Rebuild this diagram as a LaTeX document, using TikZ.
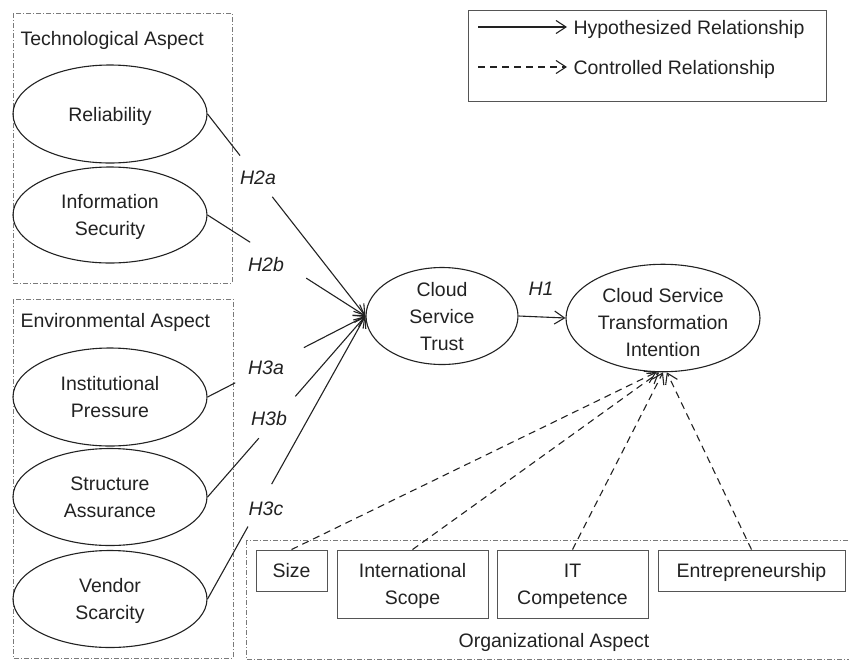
\documentclass[tikz,border=0pt]{standalone}
\usepackage{fontspec}
\setmainfont{Liberation Sans}
\usetikzlibrary{arrows.meta,shapes.geometric}
\definecolor{ink}{HTML}{222222}
\definecolor{framegray}{HTML}{7A7A7A}
\definecolor{boxgray}{HTML}{555555}
\begin{document}
\begin{tikzpicture}[x=1pt,y=-1pt,
  every node/.style={font=\fontsize{19.5}{27}\selectfont, text=ink, text depth=0pt},
  aspect/.style={draw=framegray, line width=0.8pt, dash pattern=on 5pt off 2pt on 1pt off 2pt},
  legendframe/.style={draw=boxgray, line width=0.9pt},
  construct/.style={ellipse, draw=ink, line width=1.1pt, minimum width=194pt,
    minimum height=98pt, inner sep=0pt, align=center},
  ctrlbox/.style={draw=boxgray, line width=0.9pt, inner sep=0pt, align=center},
  hyp/.style={draw=ink, line width=1.1pt},
  barb/.style={-{Straight Barb[length=10pt,width=13pt]}},
  hyparrow/.style={hyp, barb},
  ctrl/.style={draw=ink, line width=1.1pt, dash pattern=on 7pt off 5pt, barb},
  hlabel/.style={font=\fontsize{19.5}{27}\selectfont\itshape}]
\useasboundingbox (0,0) rectangle (849,662);

% aspect frames
\draw[aspect] (13,13) rectangle (232,283);
\draw[aspect] (13,299) rectangle (233,658);
\draw[aspect] (246,540) rectangle (853,659);
\node[anchor=west] (techtitle) at (17,38) {Technological Aspect};
\node[anchor=west] (envtitle) at (17,320) {Environmental Aspect};
\node (orgtitle) at (554,640) {Organizational Aspect};

% legend
\draw[legendframe] (468,10) rectangle (826,101);
\coordinate (lga) at (478,27);
\coordinate (lgb) at (567,27);
\coordinate (lgc) at (478,67);
\coordinate (lgd) at (567,67);
\draw[hyparrow] (lga) -- (lgb);
\draw[ctrl] (lgc) -- (lgd);
\node[anchor=west] (lgtxta) at (570,27) {Hypothesized Relationship};
\node[anchor=west] (lgtxtb) at (570,67) {Controlled Relationship};

% constructs
\node[construct] (rel) at (110,114) {Reliability};
\node[construct, minimum height=96pt] (infosec) at (110,215) {Information\\Security};
\node[construct] (inst) at (110,397) {Institutional\\Pressure};
\node[construct, minimum height=97pt] (struct) at (110,497) {Structure\\Assurance};
\node[construct, minimum height=97pt] (vendor) at (110,599) {Vendor\\Scarcity};
\node[construct, minimum width=152pt, minimum height=97pt] (trust) at (442,316) {Cloud\\Service\\Trust};
\node[construct, minimum height=96pt] (intent) at (663,318) {\rule{0pt}{22pt}Cloud Service\\Transformation\\Intention};

% control variables
\node[ctrlbox, minimum width=71pt, minimum height=41pt] (size) at (291.5,570.5) {Size};
\node[ctrlbox, minimum width=151pt, minimum height=68pt] (intl) at (412.5,584) {International\\Scope};
\node[ctrlbox, minimum width=151pt, minimum height=68pt] (itc) at (572.5,584) {IT\\Competence};
\node[ctrlbox, minimum width=187pt, minimum height=41pt] (entre) at (751.5,570.5) {Entrepreneurship};

% hypothesized paths, interrupted by their labels
\path (rel.east) -- (trust.west) coordinate[pos=0.206] (h2aa) coordinate[pos=0.41] (h2ab);
\draw[hyp] (rel.east) -- (h2aa);
\draw[hyparrow] (h2ab) -- (trust.west);
\node[hlabel] (h2a) at (258,178) {H2a};

\path (infosec.east) -- (trust.west) coordinate[pos=0.27] (h2ba) coordinate[pos=0.625] (h2bb);
\draw[hyp] (infosec.east) -- (h2ba);
\draw[hyparrow] (h2bb) -- (trust.west);
\node[hlabel] (h2b) at (266,264) {H2b};

\path (inst.east) -- (trust.west) coordinate[pos=0.175] (h3aa) coordinate[pos=0.61] (h3ab);
\draw[hyp] (inst.east) -- (h3aa);
\draw[hyparrow] (h3ab) -- (trust.west);
\node[hlabel] (h3a) at (266,368) {H3a};

\path (struct.east) -- (trust.west) coordinate[pos=0.325] (h3ba) coordinate[pos=0.556] (h3bb);
\draw[hyp] (struct.east) -- (h3ba);
\draw[hyparrow] (h3bb) -- (trust.west);
\node[hlabel] (h3b) at (269,418) {H3b};

\path (vendor.east) -- (trust.west) coordinate[pos=0.256] (h3ca) coordinate[pos=0.406] (h3cb);
\draw[hyp] (vendor.east) -- (h3ca);
\draw[hyparrow] (h3cb) -- (trust.west);
\node[hlabel] (h3c) at (266,509) {H3c};

\draw[hyparrow] (trust.east) -- (intent.west);
\node[hlabel] (h1) at (541,289) {H1};

% controlled paths
\draw[ctrl] (size.north) -- (intent.263);
\draw[ctrl] (intl.north) -- (intent.266);
\draw[ctrl] (itc.north) -- (intent.270);
\draw[ctrl] (entre.north) -- (intent.274);
\end{tikzpicture}
\end{document}
